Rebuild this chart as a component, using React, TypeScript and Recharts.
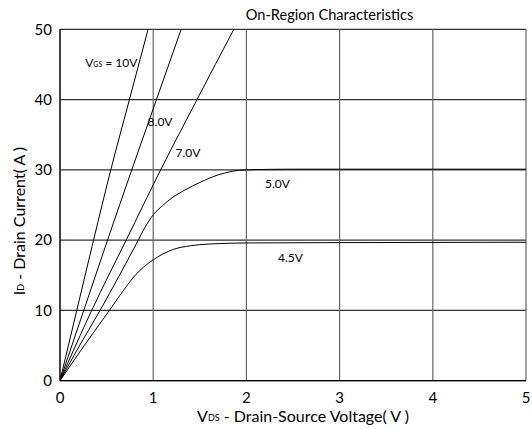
import React from "react";
import {
  LineChart,
  Line,
  XAxis,
  YAxis,
  CartesianGrid,
  ReferenceDot,
} from "recharts";

const xTicks = [0, 1, 2, 3, 4, 5];
const yTicks = [0, 10, 20, 30, 40, 50];

const vgs10 = [
  { v: 0, i: 0 },
  { v: 0.18, i: 10 },
  { v: 0.36, i: 20 },
  { v: 0.545, i: 30 },
  { v: 0.745, i: 40 },
  { v: 0.945, i: 50 },
];
const vgs8 = [
  { v: 0, i: 0 },
  { v: 0.255, i: 10 },
  { v: 0.51, i: 20 },
  { v: 0.77, i: 30 },
  { v: 1.035, i: 40 },
  { v: 1.3, i: 50 },
];
const vgs7 = [
  { v: 0, i: 0 },
  { v: 0.34, i: 10 },
  { v: 0.71, i: 20 },
  { v: 1.08, i: 30 },
  { v: 1.47, i: 40 },
  { v: 1.865, i: 50 },
];
const vgs5 = [
  { v: 0, i: 0 },
  { v: 0.21, i: 5 },
  { v: 0.43, i: 10 },
  { v: 0.63, i: 14.8 },
  { v: 0.82, i: 19.5 },
  { v: 0.92, i: 22 },
  { v: 1.0, i: 23.6 },
  { v: 1.1, i: 24.9 },
  { v: 1.2, i: 26.0 },
  { v: 1.35, i: 27.2 },
  { v: 1.5, i: 28.2 },
  { v: 1.7, i: 29.3 },
  { v: 1.85, i: 29.8 },
  { v: 2.0, i: 30.0 },
  { v: 2.5, i: 30.1 },
  { v: 5, i: 30.1 },
];
const vgs45 = [
  { v: 0, i: 0 },
  { v: 0.26, i: 5 },
  { v: 0.53, i: 10 },
  { v: 0.7, i: 13.2 },
  { v: 0.8, i: 14.9 },
  { v: 0.9, i: 16.2 },
  { v: 1.0, i: 17.2 },
  { v: 1.1, i: 18.0 },
  { v: 1.22, i: 18.7 },
  { v: 1.4, i: 19.2 },
  { v: 1.6, i: 19.45 },
  { v: 2.0, i: 19.6 },
  { v: 3, i: 19.65 },
  { v: 5, i: 19.7 },
];

const curveLabels = [
  { v: 0.27, i: 45.3, text: "10V", sub: true },
  { v: 0.94, i: 36.9, text: "8.0V", sub: false },
  { v: 1.24, i: 32.5, text: "7.0V", sub: false },
  { v: 2.2, i: 28.1, text: "5.0V", sub: false },
  { v: 2.34, i: 17.6, text: "4.5V", sub: false },
];

const FONT = "Lato, 'Open Sans', sans-serif";

const series = [vgs10, vgs8, vgs7, vgs5, vgs45];

export default function App() {
  return (
    <div style={{ position: "relative", width: 532, height: 430, overflow: "hidden" }}>
      <style>{`html,body{margin:0;padding:0;overflow:hidden;background:#fff}`}</style>
      <div
        style={{
          position: "absolute",
          left: 329.5,
          top: 15,
          transform: "translate(-50%, -50%)",
          fontFamily: FONT,
          fontSize: 14.6,
          whiteSpace: "nowrap",
          lineHeight: 1,
          zIndex: 2,
        }}
      >
        On-Region Characteristics
      </div>
      <LineChart
        width={532}
        height={430}
        margin={{ top: 29.3, right: 6, bottom: 0, left: 0 }}
      >
        <CartesianGrid horizontal={true} vertical={false} stroke="#333" strokeWidth={1.2} />
        <CartesianGrid horizontal={false} vertical={true} stroke="#666" strokeWidth={1.2} />
        <XAxis
          type="number"
          dataKey="v"
          domain={[0, 5]}
          ticks={xTicks}
          height={49.3}
          tickLine={false}
          tickMargin={6}
          axisLine={{ stroke: "#000", strokeWidth: 1.2 }}
          tick={{ fill: "#000", fontSize: 15, fontFamily: FONT }}
          allowDataOverflow
          label={{
            content: () => (
              <text
                x={303}
                y={415}
                textAnchor="middle"
                dominantBaseline="central"
                fontFamily={FONT}
                fontSize={16}
                fill="#000"
              >
                <tspan>V</tspan>
                <tspan fontSize={9} dy={2}>DS</tspan>
                <tspan dy={-2}> - Drain-Source Voltage( V )</tspan>
              </text>
            ),
          }}
        />
        <YAxis
          type="number"
          domain={[0, 50]}
          ticks={yTicks}
          width={60}
          tickLine={false}
          axisLine={{ stroke: "#000", strokeWidth: 1.2 }}
          tick={{ fill: "#000", fontSize: 15, fontFamily: FONT }}
          allowDataOverflow
          label={{
            content: () => (
              <text
                x={18}
                y={221}
                transform="rotate(-90 18 221)"
                textAnchor="middle"
                dominantBaseline="central"
                fontFamily={FONT}
                fontSize={16}
                fill="#000"
              >
                <tspan>I</tspan>
                <tspan fontSize={9} dy={2}>D</tspan>
                <tspan dy={-2}> - Drain Current( A )</tspan>
              </text>
            ),
          }}
        />
        {series.map((d, k) => (
          <Line
            key={k}
            data={d}
            dataKey="i"
            type="monotone"
            stroke="#000"
            strokeWidth={1}
            dot={false}
            isAnimationActive={false}
          />
        ))}
        {curveLabels.map((l, k) => (
          <ReferenceDot
            key={"l" + k}
            x={l.v}
            y={l.i}
            r={1}
            fill="none"
            stroke="none"
            ifOverflow="visible"
            label={{
              content: (p: any) => {
                const vb = p.viewBox;
                const x = vb.x + vb.width / 2;
                const y = vb.y + vb.height / 2;
                return (
                  <text
                    x={x}
                    y={y}
                    textAnchor="start"
                    dominantBaseline="central"
                    fontFamily={FONT}
                    fontSize={12}
                    fill="#000"
                  >
                    {l.sub ? (
                      <>
                        <tspan>V</tspan>
                        <tspan fontSize={7} dy={2}>GS</tspan>
                        <tspan dy={-2}>{" = " + l.text}</tspan>
                      </>
                    ) : (
                      l.text
                    )}
                  </text>
                );
              },
            }}
          />
        ))}
      </LineChart>
    </div>
  );
}
